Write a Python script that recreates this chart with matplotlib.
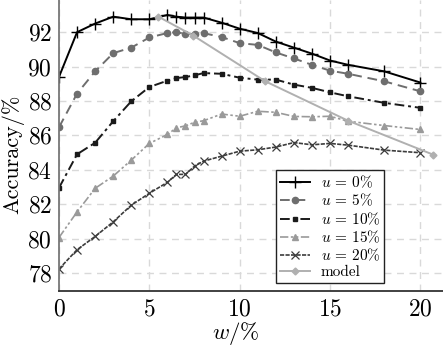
import matplotlib
matplotlib.use("Agg")
import matplotlib.pyplot as plt

plt.rcParams['font.family'] = ['cmr10', 'DejaVu Serif']
plt.rcParams['mathtext.fontset'] = 'cm'
plt.rcParams['axes.formatter.use_mathtext'] = True

w = [0, 1, 2, 3, 4, 5, 6, 6.5, 7, 7.5, 8, 9, 10, 11, 12, 13, 14, 15, 16, 18, 20]

u0 = [89.4, 92.0, 92.5, 92.9, 92.75, 92.75, 93.0, 92.9, 92.85, 92.85, 92.85, 92.55,
      92.2, 91.95, 91.45, 91.1, 90.75, 90.35, 90.1, 89.72, 89.07]
u5 = [86.47, 88.43, 89.72, 90.78, 91.1, 91.69, 91.95, 92.0, 91.9, 91.88, 91.94, 91.72,
      91.36, 91.26, 90.82, 90.47, 90.1, 89.76, 89.58, 89.14, 88.56]
u10 = [82.95, 84.9, 85.57, 86.82, 87.98, 88.81, 89.18, 89.33, 89.39, 89.49, 89.62, 89.58,
       89.35, 89.24, 89.24, 88.95, 88.76, 88.5, 88.27, 87.89, 87.6]
u15 = [80.06, 81.55, 82.92, 83.63, 84.56, 85.53, 86.05, 86.44, 86.55, 86.76, 86.85, 87.24,
       87.11, 87.4, 87.34, 87.1, 87.08, 87.11, 86.82, 86.57, 86.34]
u20 = [78.23, 79.35, 80.12, 80.97, 81.94, 82.63, 83.27, 83.73, 83.73, 84.21, 84.5, 84.79,
       85.08, 85.16, 85.32, 85.58, 85.45, 85.53, 85.43, 85.14, 84.99]

model_w = [5.5, 7.43, 11.4, 16.0, 20.7]
model_acc = [92.9, 91.8, 89.15, 86.85, 84.88]

labels = [r'$u\,=\,0\%$', r'$u\,=\,5\%$', r'$u\,=\,10\%$', r'$u\,=\,15\%$', r'$u\,=\,20\%$', 'model']

fig = plt.figure(figsize=(4.43, 3.46), dpi=100)
ax = fig.add_axes([0.1332, 0.159, 0.8668, 0.841])

ax.plot(w, u0, color='black', lw=1.4, ls='-', marker='+', ms=9, mew=1.0, label=labels[0])
ax.plot(w, u5, color='#6e6e6e', lw=1.4, ls=(0, (5, 3)), marker='o', ms=4.5, label=labels[1])
ax.plot(w, u10, color='#1a1a1a', lw=1.4, ls=(0, (5, 2, 1.5, 2)), marker='s', ms=3.5, label=labels[2])
ax.plot(w, u15, color='#9a9a9a', lw=1.2, ls=(0, (5, 1.5, 1.5, 1.5, 1.5, 1.5)), marker='^', ms=4, label=labels[3])
ax.plot(w, u20, color='#3c3c3c', lw=1.2, ls=(0, (2.5, 0.8)), marker='x', ms=6, mew=0.9, label=labels[4])
ax.plot(model_w, model_acc, color='#b0b0b0', lw=1.4, ls='-', marker='D', ms=3.5, label=labels[5])

ax.set_xlim(0, 21.25)
ax.set_ylim(76.95, 93.87)
ax.set_xticks([0, 5, 10, 15, 20])
ax.set_yticks([78, 80, 82, 84, 86, 88, 90, 92])
ax.tick_params(length=0, labelsize=17)
ax.tick_params(axis='x', pad=5)
ax.tick_params(axis='y', pad=5)
ax.grid(True, color='#d9d9d9', ls=(0, (5, 4)), lw=1.0)
ax.set_axisbelow(True)
for s in ['top', 'right']:
    ax.spines[s].set_visible(False)
ax.spines['left'].set_color('#777777')
ax.spines['bottom'].set_color('#333333')
ax.spines['left'].set_linewidth(1.3)
ax.spines['bottom'].set_linewidth(1.3)

ax.set_xlabel(r'$w/\%$', fontsize=16.5)
ax.xaxis.set_label_coords(0.461, -0.098)
ax.set_ylabel('Accuracy/%', fontsize=16)
ax.yaxis.set_label_coords(-0.09, 0.47)

leg = ax.legend(loc='lower left', bbox_to_anchor=(0.565, 0.028), fontsize=11,
                frameon=True, fancybox=False, edgecolor='#222222', framealpha=1,
                handlelength=2.0, borderpad=0.25, labelspacing=0.12, handletextpad=0.7,
                borderaxespad=0)
leg.get_frame().set_linewidth(1.0)

fig.savefig('out.png', dpi=100)
